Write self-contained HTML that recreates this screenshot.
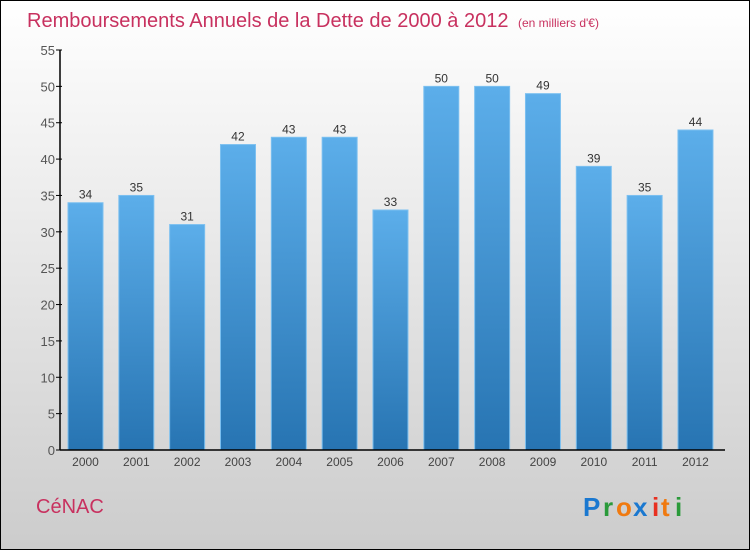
<!DOCTYPE html>
<html><head><meta charset="utf-8"><style>
body{margin:0;width:750px;height:550px;overflow:hidden;font-family:"Liberation Sans",sans-serif}
</style></head><body>
<svg width="750" height="550" xmlns="http://www.w3.org/2000/svg">
<defs>
<linearGradient id="bg" x1="0" y1="0" x2="0" y2="1"><stop offset="0" stop-color="#ffffff"/><stop offset="1" stop-color="#cccccc"/></linearGradient>
<linearGradient id="bar" x1="0" y1="0" x2="0" y2="1"><stop offset="0" stop-color="#5caeea"/><stop offset="1" stop-color="#2774b2"/></linearGradient>
</defs>
<rect x="0.5" y="0.5" width="749" height="549" fill="url(#bg)" stroke="#000"/>
<text x="27" y="27" font-size="20" fill="#c8315f">Remboursements Annuels de la Dette de 2000 à 2012 <tspan font-size="12" dx="4">(en milliers d'€)</tspan></text>
<g id="plot"></g>
<text x="36" y="513" font-size="20" fill="#c8315f">CéNAC</text>
<g font-size="26" font-family="'Liberation Sans',sans-serif" font-weight="bold">
<text x="583" y="516" fill="#1a78d0">P</text><text x="603" y="516" fill="#2a9a3a">r</text><text x="616" y="516" fill="#f07a10">o</text><text x="633" y="516" fill="#1a78d0">x</text><text x="652" y="516" fill="#e83020">i</text><text x="661" y="516" fill="#f07a10">t</text><text x="675" y="516" fill="#2a9a3a">i</text>
</g>
</svg>
<script>
const categories=["2000","2001","2002","2003","2004","2005","2006","2007","2008","2009","2010","2011","2012"];
const values=[34,35,31,42,43,43,33,50,50,49,39,35,44];
const yTicks=[0,5,10,15,20,25,30,35,40,45,50,55];
const NS="http://www.w3.org/2000/svg";
const g=document.getElementById("plot");
const y0=450,yTop=50,yMax=55,x0=60,step=50.83,bw=35,firstC=85.5;
const yS=v=>y0-(v/yMax)*(y0-yTop);
const xS=i=>firstC+i*step;
function mk(t,a){const e=document.createElementNS(NS,t);for(const k in a)e.setAttribute(k,a[k]);g.appendChild(e);return e;}
values.forEach((v,i)=>{
 const r=mk("rect",{x:xS(i)-bw/2,y:yS(v),width:bw,height:y0-yS(v),fill:"url(#bar)",stroke:"#7cc0f0","stroke-width":1});
 
 
 const t=mk("text",{x:xS(i),y:yS(v)-4,"text-anchor":"middle","font-size":12,fill:"#333"});
 t.textContent=v;
 
 
 const c=mk("text",{x:xS(i),y:466,"text-anchor":"middle","font-size":12,fill:"#444"});
 c.textContent=categories[i];
 
 
});
yTicks.forEach(v=>{
 const l=mk("line",{x1:x0-4,x2:x0+2,y1:yS(v),y2:yS(v),stroke:"#000"});
 
 
 const t=mk("text",{x:x0-5,y:yS(v)+5,"text-anchor":"end","font-size":13,fill:"#555"});
 t.textContent=v;
 
 
});
const ya=mk("line",{x1:x0,x2:x0,y1:yTop,y2:y0,stroke:"#000","stroke-width":1.5});


const xa=mk("line",{x1:x0,x2:725,y1:y0,y2:y0,stroke:"#000","stroke-width":1.5});


</script>
</body></html>
